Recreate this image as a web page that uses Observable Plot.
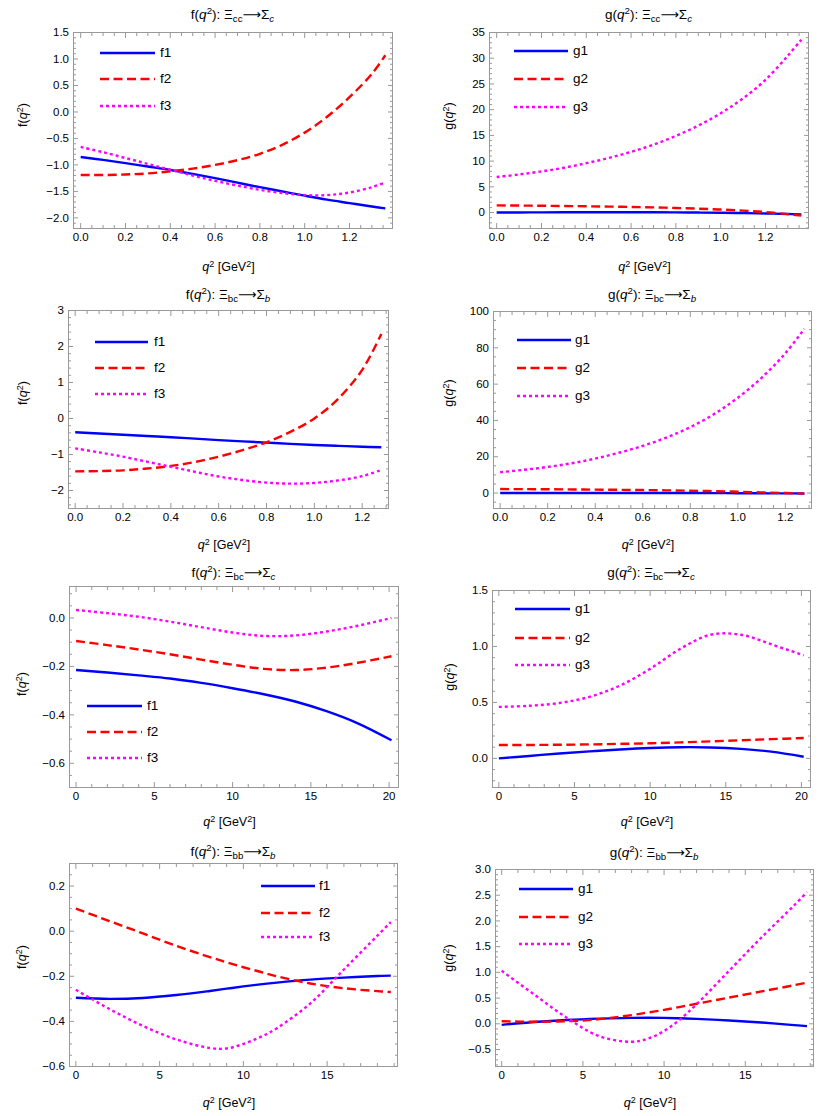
<!DOCTYPE html>
<html>
<head>
<meta charset="utf-8">
<script src="https://cdn.jsdelivr.net/npm/d3@7"></script>
<script src="https://cdn.jsdelivr.net/npm/@observablehq/plot@0.6"></script>
<style>
  html, body { margin: 0; padding: 0; background: #fff; }
  #root { position: relative; width: 830px; height: 1116px; overflow: hidden;
          font-family: "Liberation Sans", Arial, "DejaVu Sans", sans-serif; color: #000; }
  .lbl { position: absolute; white-space: nowrap; transform: translate(-50%, -50%); line-height: 1; }
  .ylab { transform: translate(-50%, -50%) rotate(-90deg); }
  .leg { position: absolute; white-space: nowrap; line-height: 1; transform: translateY(-50%); font-size: 13.5px; }
  sup, sub { font-size: 0.72em; line-height: 0; position: relative; vertical-align: baseline; }
  sup { top: -0.48em; }
  sub { top: 0.32em; }
  .arrow { font-family: "DejaVu Sans", sans-serif; font-size: 0.95em; }
</style>
</head>
<body>
<div id="root"></div>
<script>
// ---------------- data ----------------
// Xi_cc -> Sigma_c
const qCC = [0, 0.1, 0.2, 0.3, 0.4, 0.5, 0.6, 0.7, 0.8, 0.9, 1.0, 1.1, 1.2, 1.3, 1.36];
const f1_ccSc = [-0.85, -0.905, -0.965, -1.03, -1.095, -1.17, -1.25, -1.335, -1.42, -1.50, -1.58, -1.655, -1.72, -1.785, -1.82];
const f2_ccSc = [-1.19, -1.19, -1.18, -1.16, -1.12, -1.07, -1.0, -0.91, -0.79, -0.62, -0.39, -0.09, 0.28, 0.72, 1.07];
const f3_ccSc = [-0.66, -0.76, -0.87, -0.98, -1.09, -1.20, -1.30, -1.39, -1.47, -1.53, -1.57, -1.57, -1.52, -1.42, -1.33];
const g1_ccSc = [0, 0.02, 0.04, 0.05, 0.06, 0.06, 0.06, 0.05, 0.03, 0, -0.04, -0.1, -0.18, -0.28, -0.35];
const g2_ccSc = [1.40, 1.36, 1.32, 1.27, 1.22, 1.16, 1.09, 1.0, 0.89, 0.75, 0.58, 0.37, 0.1, -0.3, -0.6];
const g3_ccSc = [6.9, 7.4, 8.0, 8.7, 9.6, 10.6, 11.8, 13.2, 14.9, 16.9, 19.3, 22.2, 25.8, 30.5, 33.6];

// Xi_bc -> Sigma_b
const qBCb = [0, 0.1, 0.2, 0.3, 0.4, 0.5, 0.6, 0.7, 0.8, 0.9, 1.0, 1.1, 1.2, 1.28];
const f1_bcSb = [-0.38, -0.415, -0.45, -0.485, -0.52, -0.56, -0.60, -0.635, -0.67, -0.705, -0.735, -0.76, -0.785, -0.80];
const f2_bcSb = [-1.47, -1.46, -1.44, -1.39, -1.32, -1.21, -1.06, -0.88, -0.66, -0.37, 0.0, 0.55, 1.35, 2.35];
const f3_bcSb = [-0.83, -0.94, -1.06, -1.20, -1.34, -1.48, -1.61, -1.71, -1.78, -1.81, -1.79, -1.72, -1.60, -1.43];
const g1_bcSb = [0, 0.02, 0.04, 0.05, 0.06, 0.06, 0.05, 0.03, 0, -0.04, -0.08, -0.13, -0.18, -0.22];
const g2_bcSb = [2.2, 2.15, 2.1, 2.0, 1.9, 1.8, 1.65, 1.5, 1.3, 1.05, 0.75, 0.4, 0.0, -0.3];
const g3_bcSb = [11.5, 12.8, 14.4, 16.4, 19.0, 22.2, 26.0, 30.6, 36.3, 43.5, 52.5, 63.5, 77.0, 90.5];

// Xi_bc -> Sigma_c
const qBCc = [0, 2, 4, 6, 8, 10, 12, 14, 16, 18, 20.15];
const f1_bcSc = [-0.215, -0.225, -0.237, -0.25, -0.268, -0.29, -0.315, -0.345, -0.385, -0.435, -0.505];
const f2_bcSc = [-0.095, -0.112, -0.13, -0.15, -0.172, -0.193, -0.21, -0.215, -0.205, -0.185, -0.158];
const f3_bcSc = [0.033, 0.02, 0.005, -0.015, -0.038, -0.06, -0.074, -0.072, -0.056, -0.032, 0.0];
const g1_bcSc = [0, 0.022, 0.044, 0.063, 0.08, 0.093, 0.10, 0.098, 0.085, 0.06, 0.015];
const g2_bcSc = [0.12, 0.12, 0.122, 0.125, 0.13, 0.135, 0.143, 0.152, 0.162, 0.172, 0.182];
const g3_bcSc = [0.46, 0.47, 0.495, 0.55, 0.65, 0.80, 0.98, 1.105, 1.105, 1.02, 0.92];

// Xi_bb -> Sigma_b
const qBB = [0, 2, 4, 6, 8, 9, 10, 11, 12, 14, 16, 18, 18.8];
const f1_bbSb = [-0.295, -0.30, -0.296, -0.283, -0.265, -0.255, -0.245, -0.236, -0.228, -0.215, -0.206, -0.199, -0.197];
const f2_bbSb = [0.10, 0.045, -0.01, -0.065, -0.115, -0.138, -0.16, -0.18, -0.20, -0.232, -0.253, -0.266, -0.27];
const f3_bbSb = [-0.26, -0.345, -0.42, -0.48, -0.518, -0.52, -0.50, -0.47, -0.43, -0.32, -0.17, -0.02, 0.04];
const g1_bbSb = [-0.02, 0.035, 0.075, 0.10, 0.115, 0.117, 0.115, 0.107, 0.095, 0.065, 0.025, -0.025, -0.045];
const g2_bbSb = [0.05, 0.04, 0.05, 0.09, 0.17, 0.22, 0.27, 0.33, 0.39, 0.51, 0.63, 0.75, 0.80];
const g3_bbSb = [1.03, 0.57, 0.12, -0.24, -0.35, -0.29, -0.14, 0.09, 0.38, 1.03, 1.68, 2.30, 2.56];

// tick labels
const xTicksSmall = [0, 0.2, 0.4, 0.6, 0.8, 1.0, 1.2];
const xTicksLarge20 = [0, 5, 10, 15, 20];
const xTicksLarge15 = [0, 5, 10, 15];
const yTicks_f_ccSc = [-2.0, -1.5, -1.0, -0.5, 0.0, 0.5, 1.0, 1.5];
const yTicks_g_ccSc = [0, 5, 10, 15, 20, 25, 30, 35];
const yTicks_f_bcSb = [-2, -1, 0, 1, 2, 3];
const yTicks_g_bcSb = [0, 20, 40, 60, 80, 100];
const yTicks_f_bcSc = [-0.6, -0.4, -0.2, 0.0];
const yTicks_g_bcSc = [0.0, 0.5, 1.0, 1.5];
const yTicks_f_bbSb = [-0.6, -0.4, -0.2, 0.0, 0.2];
const yTicks_g_bbSb = [-0.5, 0.0, 0.5, 1.0, 1.5, 2.0, 2.5, 3.0];

const seriesNames = ["1", "2", "3"];

// ---------------- styling ----------------
const COLORS = ["#0000ff", "#ff0000", "#ff00ff"];
const DASHES = [null, "9,4.5", "3,3"];
const FRAME = "#999999";
const root = document.getElementById("root");

function minorTicks(domain, step, majors) {
  const out = [];
  const start = Math.ceil(domain[0] / step - 1e-9), end = Math.floor(domain[1] / step + 1e-9);
  for (let k = start; k <= end; k++) {
    const v = +(k * step).toFixed(6);
    if (!majors.some(m => Math.abs(m - v) < step * 1e-3)) out.push(v);
  }
  return out;
}

function addLabel(html, cx, cy, size, cls) {
  const d = document.createElement("div");
  d.className = "lbl" + (cls ? " " + cls : "");
  d.style.left = cx + "px";
  d.style.top = cy + "px";
  d.style.fontSize = size + "px";
  d.innerHTML = html;
  root.appendChild(d);
}

function addLegend(prefix, x1, x2, labelX, ys) {
  ys.forEach((y, i) => {
    const w = x2 - x1;
    const svg = document.createElementNS("http://www.w3.org/2000/svg", "svg");
    svg.setAttribute("width", w);
    svg.setAttribute("height", 6);
    svg.style.position = "absolute";
    svg.style.left = x1 + "px";
    svg.style.top = (y - 3) + "px";
    const ln = document.createElementNS("http://www.w3.org/2000/svg", "line");
    ln.setAttribute("x1", 0); ln.setAttribute("x2", w);
    ln.setAttribute("y1", 3); ln.setAttribute("y2", 3);
    ln.setAttribute("stroke", COLORS[i]);
    ln.setAttribute("stroke-width", 2.5);
    if (DASHES[i]) ln.setAttribute("stroke-dasharray", DASHES[i]);
    svg.appendChild(ln);
    root.appendChild(svg);
    const t = document.createElement("div");
    t.className = "leg";
    t.style.left = labelX + "px";
    t.style.top = y + "px";
    t.textContent = prefix + seriesNames[i];
    root.appendChild(t);
  });
}

function panel(cfg) {
  const [x0, x1, y0, y1] = cfg.frame;
  const mL = 46, mR = 6, mT = 8, mB = 24;
  const W = x1 - x0 + mL + mR, H = y1 - y0 + mT + mB;
  const xMinor = minorTicks(cfg.xDomain, cfg.xMinorStep, cfg.xTicks);
  const yMinor = minorTicks(cfg.yDomain, cfg.yMinorStep, cfg.yTicks);
  const lineMarks = cfg.series.map((vals, i) =>
    Plot.line(cfg.q.map((q, j) => ({q, v: vals[j]})), {
      x: "q", y: "v", stroke: COLORS[i], strokeWidth: 2.4,
      strokeDasharray: DASHES[i] || undefined, strokeLinecap: "butt", curve: "catmull-rom", clip: true
    }));
  const chart = Plot.plot({
    width: W, height: H,
    marginLeft: mL, marginRight: mR, marginTop: mT, marginBottom: mB,
    style: {fontFamily: '"Liberation Sans", Arial, sans-serif', fontSize: "11.5px", color: "#000", background: "transparent", overflow: "visible"},
    x: {domain: cfg.xDomain},
    y: {domain: cfg.yDomain},
    marks: [
      ...lineMarks,
      Plot.frame({stroke: FRAME, strokeWidth: 1}),
      Plot.axisX({anchor: "bottom", ticks: cfg.xTicks, tickFormat: d3.format(cfg.xFmt), tickSize: -5, tickPadding: 9, stroke: FRAME, fill: "#000", label: null}),
      Plot.axisX({anchor: "bottom", ticks: xMinor, tickSize: -3, stroke: FRAME, fill: "none", label: null}),
      Plot.axisX({anchor: "top", ticks: cfg.xTicks, tickSize: -5, stroke: FRAME, fill: "none", label: null}),
      Plot.axisX({anchor: "top", ticks: xMinor, tickSize: -3, stroke: FRAME, fill: "none", label: null}),
      Plot.axisY({anchor: "left", ticks: cfg.yTicks, tickFormat: d3.format(cfg.yFmt), tickSize: -5, tickPadding: 9.5, stroke: FRAME, fill: "#000", label: null}),
      Plot.axisY({anchor: "left", ticks: yMinor, tickSize: -3, stroke: FRAME, fill: "none", label: null}),
      Plot.axisY({anchor: "right", ticks: cfg.yTicks, tickSize: -5, stroke: FRAME, fill: "none", label: null}),
      Plot.axisY({anchor: "right", ticks: yMinor, tickSize: -3, stroke: FRAME, fill: "none", label: null})
    ]
  });
  chart.style.position = "absolute";
  chart.style.left = (x0 - mL) + "px";
  chart.style.top = (y0 - mT) + "px";
  root.appendChild(chart);

  const cx = (x0 + x1) / 2;
  addLabel(cfg.title, cx, cfg.titleY, 13.5);
  addLabel('<i>q</i><sup>2</sup> [GeV<sup>2</sup>]', cx - 4, cfg.xLabY, 12.5);
  addLabel(cfg.ylab, cfg.yLabX, cfg.yLabY, 12.5, "ylab");
  addLegend(cfg.prefix, cfg.leg[0], cfg.leg[1], cfg.leg[2], cfg.leg[3]);
}

const ARW = '<span class="arrow">⟶</span>';
const fT = (a, b) => `f(<i>q</i><sup>2</sup>): Ξ<sub>${a}</sub>${ARW}Σ<sub><i>${b}</i></sub>`;
const gT = (a, b) => `g(<i>q</i><sup>2</sup>): Ξ<sub>${a}</sub>${ARW}Σ<sub><i>${b}</i></sub>`;
const fY = 'f(<i>q</i><sup>2</sup>)';
const gY = 'g(<i>q</i><sup>2</sup>)';

// Row 1
panel({frame: [73, 392, 32, 228], q: qCC, series: [f1_ccSc, f2_ccSc, f3_ccSc],
  xDomain: [-0.032, 1.392], yDomain: [-2.2, 1.5], xTicks: xTicksSmall, yTicks: yTicks_f_ccSc,
  xMinorStep: 0.05, yMinorStep: 0.1, xFmt: ".1f", yFmt: ".1f",
  title: fT("cc", "c"), titleY: 15, xLabY: 267, ylab: fY, yLabX: 23, yLabY: 115,
  prefix: "f", leg: [100, 155, 160, [53, 79, 106]]});
panel({frame: [489, 808, 32, 228], q: qCC, series: [g1_ccSc, g2_ccSc, g3_ccSc],
  xDomain: [-0.032, 1.392], yDomain: [-3.1, 35], xTicks: xTicksSmall, yTicks: yTicks_g_ccSc,
  xMinorStep: 0.05, yMinorStep: 1, xFmt: ".1f", yFmt: "d",
  title: gT("cc", "c"), titleY: 15, xLabY: 267, ylab: gY, yLabX: 449, yLabY: 116,
  prefix: "g", leg: [514, 568, 573, [51, 79, 107]]});

// Row 2
panel({frame: [68, 388, 310, 508], q: qBCb, series: [f1_bcSb, f2_bcSb, f3_bcSb],
  xDomain: [-0.028, 1.31], yDomain: [-2.5, 3], xTicks: xTicksSmall, yTicks: yTicks_f_bcSb,
  xMinorStep: 0.05, yMinorStep: 0.2, xFmt: ".1f", yFmt: "d",
  title: fT("bc", "b"), titleY: 295, xLabY: 545, ylab: fY, yLabX: 23, yLabY: 393,
  prefix: "f", leg: [95, 148, 154, [342, 368, 394]]});
panel({frame: [493, 811, 311, 508], q: qBCb, series: [g1_bcSb, g2_bcSb, g3_bcSb],
  xDomain: [-0.028, 1.31], yDomain: [-8.5, 100], xTicks: xTicksSmall, yTicks: yTicks_g_bcSb,
  xMinorStep: 0.05, yMinorStep: 5, xFmt: ".1f", yFmt: "d",
  title: gT("bc", "b"), titleY: 295, xLabY: 545, ylab: gY, yLabX: 449, yLabY: 393,
  prefix: "g", leg: [517, 571, 575, [340, 368, 396]]});

// Row 3
panel({frame: [69, 398, 586, 787], q: qBCc, series: [f1_bcSc, f2_bcSc, f3_bcSc],
  xDomain: [-0.42, 20.6], yDomain: [-0.70, 0.13], xTicks: xTicksLarge20, yTicks: yTicks_f_bcSc,
  xMinorStep: 1, yMinorStep: 0.05, xFmt: "d", yFmt: ".1f",
  title: fT("bc", "c"), titleY: 573, xLabY: 822, ylab: fY, yLabX: 22, yLabY: 684,
  prefix: "f", leg: [87, 142, 147, [706, 732, 758]]});
panel({frame: [492, 810, 590, 787], q: qBCc, series: [g1_bcSc, g2_bcSc, g3_bcSc],
  xDomain: [-0.42, 20.6], yDomain: [-0.26, 1.5], xTicks: xTicksLarge20, yTicks: yTicks_g_bcSc,
  xMinorStep: 1, yMinorStep: 0.1, xFmt: "d", yFmt: ".1f",
  title: gT("bc", "c"), titleY: 573, xLabY: 822, ylab: gY, yLabX: 450, yLabY: 677,
  prefix: "g", leg: [515, 570, 575, [609, 638, 665]]});

// Row 4
panel({frame: [69, 397, 863, 1066], q: qBB, series: [f1_bbSb, f2_bbSb, f3_bbSb],
  xDomain: [-0.38, 19.2], yDomain: [-0.6, 0.3], xTicks: xTicksLarge15, yTicks: yTicks_f_bbSb,
  xMinorStep: 1, yMinorStep: 0.05, xFmt: "d", yFmt: ".1f",
  title: fT("bb", "b"), titleY: 852, xLabY: 1103, ylab: fY, yLabX: 22, yLabY: 957,
  prefix: "f", leg: [261, 315, 319, [886, 913, 937]]});
panel({frame: [495, 813, 869, 1066], q: qBB, series: [g1_bbSb, g2_bbSb, g3_bbSb],
  xDomain: [-0.38, 19.2], yDomain: [-0.83, 3.0], xTicks: xTicksLarge15, yTicks: yTicks_g_bbSb,
  xMinorStep: 1, yMinorStep: 0.1, xFmt: "d", yFmt: ".1f",
  title: gT("bb", "b"), titleY: 853, xLabY: 1103, ylab: gY, yLabX: 449, yLabY: 958,
  prefix: "g", leg: [519, 573, 578, [889, 917, 944]]});
</script>
</body>
</html>
